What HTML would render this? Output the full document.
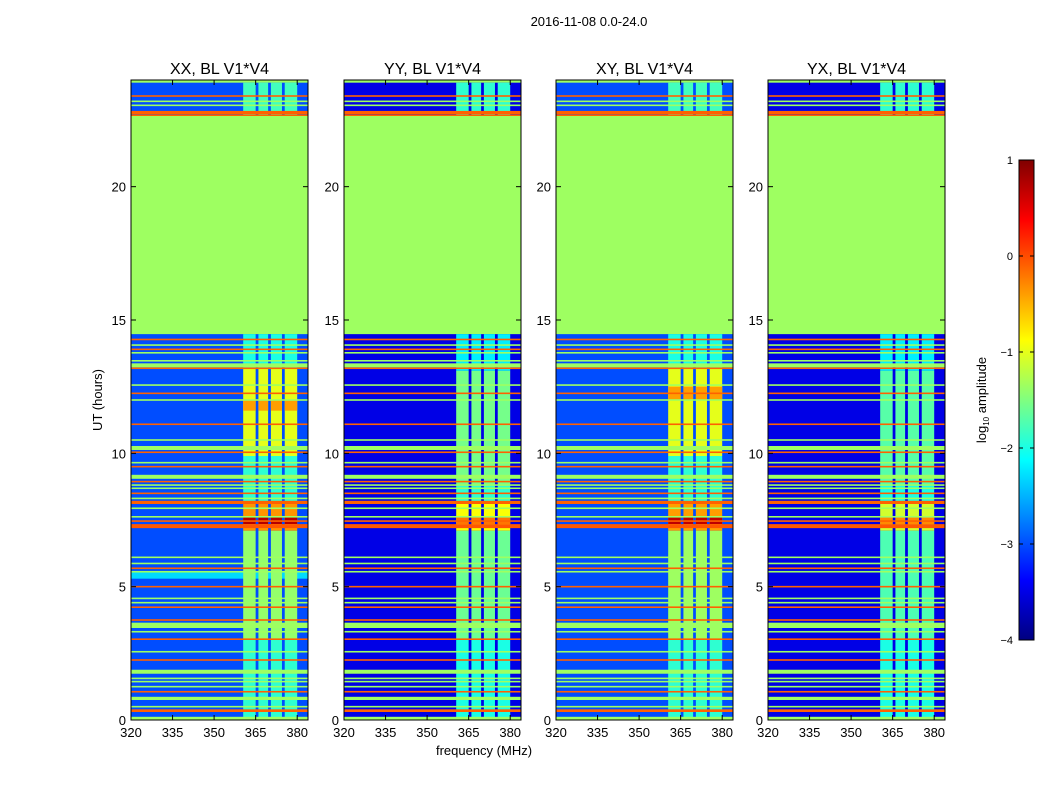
<!DOCTYPE html>
<html><head><meta charset="utf-8">
<style>
body{margin:0;background:#fff;}
svg{display:block;font-family:"Liberation Sans",sans-serif;}
</style></head>
<body>
<svg id="chart" width="1050" height="800" viewBox="0 0 1050 800" xmlns="http://www.w3.org/2000/svg">
<defs>
<linearGradient id="jet" x1="0" y1="1" x2="0" y2="0"></linearGradient>
</defs>
<text x="589" y="26" font-size="13" text-anchor="middle">2016-11-08 0.0-24.0</text>
<g id="panels"></g>
<text x="484" y="755" font-size="13" text-anchor="middle">frequency (MHz)</text>
<text transform="translate(102,400) rotate(-90)" font-size="13" text-anchor="middle">UT (hours)</text>
<g>
<rect x="1019" y="160" width="15" height="480" fill="url(#jet)" stroke="#000" stroke-width="1"/>
<g id="cbticks"></g>
<text transform="translate(986,400) rotate(-90)" font-size="13" text-anchor="middle">log<tspan font-size="8" dy="3">10</tspan><tspan dy="-3"> amplitude</tspan></text>
</g>
</svg>
<script>
// ---- data ----
const panelTitles = ["XX, BL V1*V4","YY, BL V1*V4","XY, BL V1*V4","YX, BL V1*V4"];
const xTicks = [320,335,350,365,380];
const yTicks = [0,5,10,15,20];
const cbTicks = [-4,-3,-2,-1,0,1];
const bgLevels = [-3.0,-3.5,-3.0,-3.5];
const flatLevel = -1.35;
const flatSegments = [[14.47,22.65],[23.9,24]];
const strips = [[360.5,365],[366,369.5],[370.5,374.5],[375.5,380]];
const activityXX = [[0,3,-1.9],[3,7.1,-1.4],[7.1,8.2,-0.35],[7.35,7.6,0.75],[8.2,9.9,-1.9],[9.9,13.2,-1.0],[11.6,12.0,-0.4],[13.2,14.47,-2.0],[22.65,23.9,-1.8]];
const activityYY = [[0,3,-2.0],[3,7.1,-1.6],[7.1,8.2,-0.9],[7.35,7.6,-0.2],[8.2,8.8,-1.9],[8.8,13.1,-1.55],[13.1,14.47,-2.2],[22.65,23.9,-1.9]];
const activityXY = [[0,3,-1.9],[3,7.1,-1.35],[7.1,8.2,-0.4],[7.35,7.6,0.7],[8.2,9.9,-1.9],[9.9,13.2,-1.0],[12.0,12.5,-0.4],[13.2,14.47,-2.0],[22.65,23.9,-1.8]];
const activityYX = [[0,3,-2.0],[3,7.1,-1.75],[7.1,8.2,-1.1],[7.35,7.6,-0.3],[8.2,8.8,-2.0],[8.8,13.1,-1.7],[13.1,14.47,-2.2],[22.65,23.9,-1.9]];
const activities = [activityXX,activityYY,activityXY,activityYX];
const cyanBandXX = [5.3,5.55,-2.3];
// horizontal RFI lines: hour, thickness(h), log10 amplitude
const lineHours = [0.06,0.35,0.5,0.81,1.06,1.25,1.44,1.56,1.81,2.25,2.56,3.03,3.31,3.55,3.75,4.23,4.4,4.56,5.0,5.56,5.69,5.87,6.1,7.27,7.46,7.62,7.94,8.16,8.31,8.5,8.69,8.81,8.94,9.12,9.5,9.65,10.04,10.2,10.5,11.09,12.0,12.25,12.56,13.19,13.3,13.47,13.77,13.9,14.06,14.27,22.68,22.78,23.05,23.2,23.4];
const lineThick = [0.12,0.1,0.06,0.12,0.06,0.06,0.06,0.06,0.15,0.06,0.06,0.06,0.06,0.2,0.06,0.06,0.06,0.06,0.06,0.06,0.06,0.06,0.06,0.15,0.06,0.06,0.06,0.12,0.06,0.06,0.06,0.06,0.06,0.15,0.06,0.06,0.06,0.15,0.06,0.06,0.06,0.06,0.06,0.06,0.15,0.06,0.06,0.06,0.06,0.06,0.06,0.12,0.06,0.06,0.06];
const lineLevel = [-1.35,-0.1,-1.35,-1.35,-0.1,-1.35,-1.35,-1.35,-1.35,-0.1,-1.35,-0.1,-1.35,-1.35,-0.1,-0.1,-1.35,-1.35,-0.1,-1.35,-0.1,-1.35,-1.35,-0.05,-0.1,-1.35,-1.35,-0.1,-1.35,-0.1,-1.35,-1.35,-0.1,-1.35,-0.1,-1.35,-0.1,-1.35,-1.35,-0.1,-1.35,-0.1,-1.35,-0.1,-1.35,-1.35,-1.35,-0.1,-1.35,-0.1,-0.1,-0.1,-1.35,-1.35,-0.1];

// ---- layout ----
const panelX = [131,344,556,768];
const panelW = 177, topY = 80, bottomY = 720;
const fMin = 320, fMax = 320 + 177/2.77, hMax = 24;
const NS = "http://www.w3.org/2000/svg";
function yScale(h){ return bottomY - h/hMax*(bottomY-topY); }
function xScale(p,f){ return panelX[p] + (f-fMin)/(fMax-fMin)*panelW; }
function jetT(t){
  const c = x => Math.round(255*Math.max(0,Math.min(1,x)));
  return `rgb(${c(1.5-Math.abs(4*t-3))},${c(1.5-Math.abs(4*t-2))},${c(1.5-Math.abs(4*t-1))})`;
}
function jet(v){ return jetT(Math.max(0,Math.min(1,(v+4)/5))); }
function mk(tag, attrs, parent){
  const e = document.createElementNS(NS, tag);
  for (const k in attrs) e.setAttribute(k, attrs[k]);
  parent.appendChild(e); return e;
}
const grad = document.getElementById('jet');
for (let i=0;i<=40;i++){ mk('stop',{offset:i/40,'stop-color':jetT(i/40)},grad); }
const root = document.getElementById('panels');
function band(g,p,h0,h1,f0,f1,lvl){
  return mk('rect',{x:xScale(p,f0),y:yScale(h1),width:xScale(p,f1)-xScale(p,f0),height:Math.max(1,yScale(h0)-yScale(h1)),fill:jet(lvl)},g);
}
for (let p=0;p<4;p++){
  const g = mk('g',{},root);
  
  
  const r0 = band(g,p,0,hMax,fMin,fMax,bgLevels[p]);
  
  
  flatSegments.forEach(s=>{
    const r = band(g,p,s[0],s[1],fMin,fMax,flatLevel);
    
    
  });
  if (p===0){
    const r = band(g,p,cyanBandXX[0],cyanBandXX[1],fMin,fMax,cyanBandXX[2]);
    
    
  }
  activities[p].forEach(a=>{
    strips.forEach(s=>{
      const r = band(g,p,a[0],a[1],s[0],s[1],a[2]);
      
      
    });
  });
  lineHours.forEach((h,i)=>{
    const r = band(g,p,h-lineThick[i]/2,h+lineThick[i]/2,fMin,fMax,lineLevel[i]);
    
    
  });
  const fr = mk('rect',{x:panelX[p],y:topY,width:panelW,height:bottomY-topY,fill:'none',stroke:'#000','stroke-width':1},g);
  
  
  const tt = mk('text',{x:panelX[p]+panelW/2,y:74,'font-size':16,'text-anchor':'middle'},g);
  tt.textContent = panelTitles[p];
  
  
  xTicks.forEach(f=>{
    const x = xScale(p,f);
    mk('line',{x1:x,x2:x,y1:bottomY,y2:bottomY-5,stroke:'#000'},g);
    mk('line',{x1:x,x2:x,y1:topY,y2:topY+5,stroke:'#000'},g);
    const t = mk('text',{x:x,y:bottomY+17,'font-size':13,'text-anchor':'middle'},g);
    t.textContent = f;
    
    
  });
  yTicks.forEach(h=>{
    const y = yScale(h);
    mk('line',{x1:panelX[p],x2:panelX[p]+5,y1:y,y2:y,stroke:'#000'},g);
    mk('line',{x1:panelX[p]+panelW,x2:panelX[p]+panelW-5,y1:y,y2:y,stroke:'#000'},g);
    const t = mk('text',{x:panelX[p]-5,y:y+5,'font-size':13,'text-anchor':'end'},g);
    t.textContent = h;
    
    
  });
}
const cbg = document.getElementById('cbticks');
cbTicks.forEach(v=>{
  const y = 640 - (v+4)/5*480;
  mk('line',{x1:1019,x2:1023,y1:y,y2:y,stroke:'#000'},cbg);
  mk('line',{x1:1034,x2:1030,y1:y,y2:y,stroke:'#000'},cbg);
  const t = mk('text',{x:1013,y:y+4,'font-size':11,'text-anchor':'end'},cbg);
  t.textContent = v<0 ? '\u2212'+(-v) : v;
  
  
});
</script>
</body></html>
